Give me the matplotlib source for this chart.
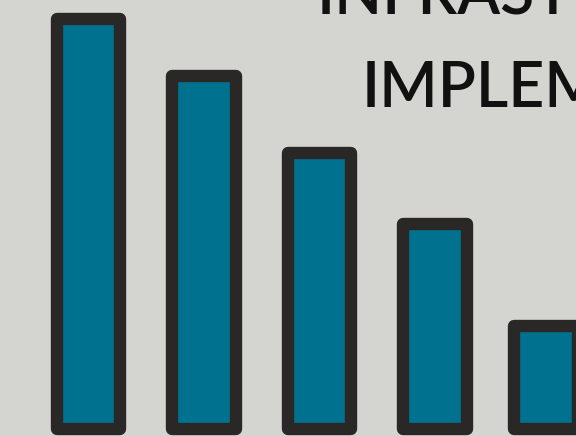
import matplotlib
matplotlib.use('Agg')
import matplotlib.pyplot as plt
import numpy as np

# bar heights (pixels above baseline)
positions = [0, 1, 2, 3, 3.96]
heights = [410, 353, 276, 205, 103]
title_lines = ['INFRASTRUCTURE', 'IMPLEMENTATION']

bg = '#d4d5d0'
fill = '#00728f'
edge = '#2a2826'

fig = plt.figure(figsize=(5.76, 4.36), dpi=100)
fig.patch.set_facecolor(bg)
ax = fig.add_axes([0, 0, 1, 1])
ax.set_facecolor(bg)

ax.bar(positions, heights, width=0.553, color=fill, edgecolor=edge,
       linewidth=8.9, joinstyle='round')

ax.set_xlim(-0.766, 4.221)
ax.set_ylim(-7, 429)
ax.axis('off')

ax.text(0.550, 0.9656, title_lines[0], transform=ax.transAxes, ha='left',
        va='baseline', fontsize=45, family='Lato', weight='semibold',
        color='#111111')
ax.text(0.627, 0.7546, title_lines[1], transform=ax.transAxes, ha='left',
        va='baseline', fontsize=45, family='Lato', weight='semibold',
        color='#111111')

fig.savefig('out.png', dpi=100, facecolor=bg)
